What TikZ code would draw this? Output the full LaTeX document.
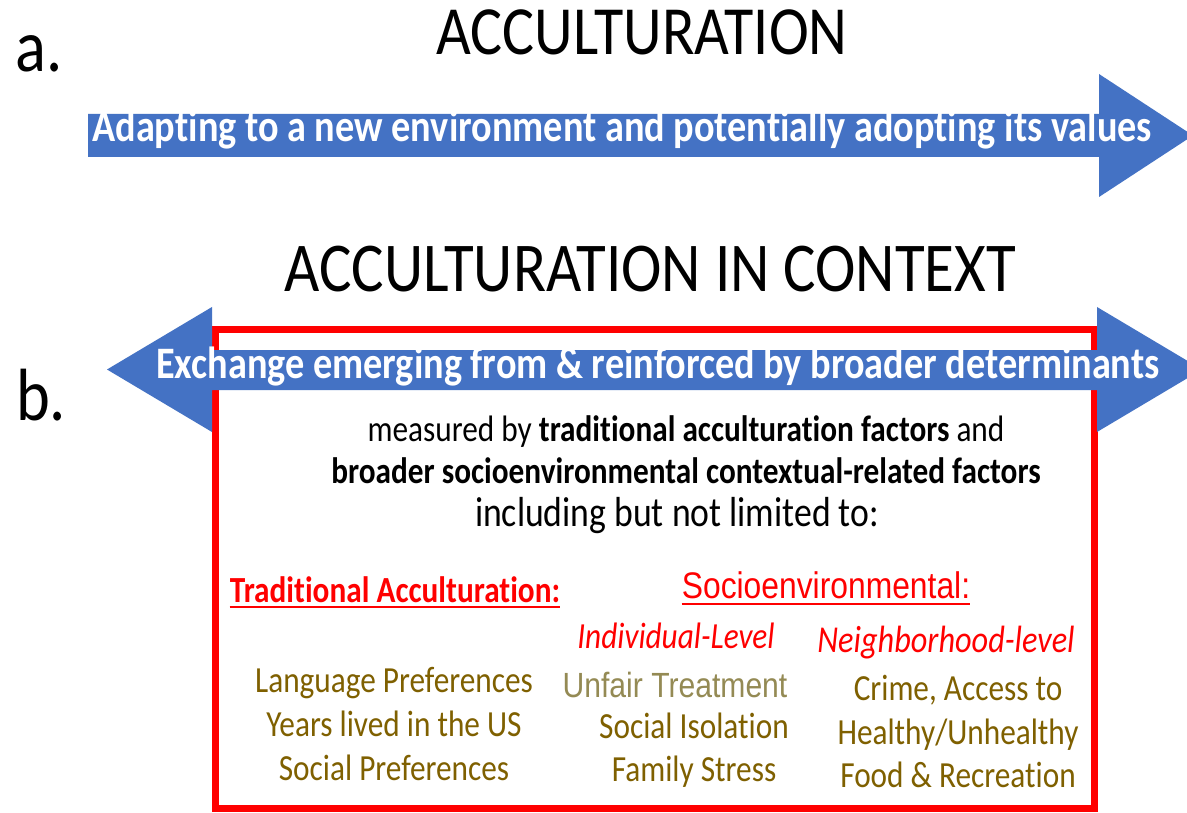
\documentclass[tikz,border=0pt]{standalone}
\usepackage{fontspec}
% narrow (tall) faces, no ligatures
\setmainfont{Carlito}[FakeStretch=0.85, Ligatures=NoCommon]
\newfontfamily\titlefont{Carlito}[FakeStretch=0.87, Ligatures=NoCommon]
\newfontfamily\arialfont{Liberation Sans}[FakeStretch=0.86]
\definecolor{bandblue}{HTML}{4472C4}
\definecolor{boxred}{HTML}{FF0000}
\definecolor{itemolive}{HTML}{7F6000}
\definecolor{itemgrey}{HTML}{948A54}
\tikzset{
  title/.style={anchor=base, inner sep=0pt, font=\titlefont\fontsize{69}{80}\selectfont},
  panel/.style={anchor=base west, inner sep=0pt, font=\titlefont\fontsize{74}{86}\selectfont},
  band/.style={anchor=base, inner sep=0pt, text=white, font=\bfseries\fontsize{45}{52}\selectfont},
  body/.style={anchor=base, inner sep=0pt, font=\fontsize{36.8}{44}\selectfont},
  item/.style={body, text=itemolive},
  head/.style={body, text=boxred},
  subhead/.style={body, text=boxred, font=\itshape\fontsize{36.8}{44}\selectfont},
  arrowshape/.style={fill=bandblue},
  uline/.style={boxred, line width=2pt},
}
\begin{document}
\begin{tikzpicture}[x=1pt, y=-1pt]
\clip (0,0) rectangle (1187,813);
\fill[white] (0,0) rectangle (1187,813);

% panel a
\node[panel] (la) at (15,72) {a.};
\node[title] (ta) at (642,55) {ACCULTURATION};
\fill[arrowshape] (88,114) -- (1099,114) -- (1099,74) -- (1193,135.5)
  -- (1099,197) -- (1099,157) -- (88,157) -- cycle;
\node[band] (ba) at (622,142) {Adapting to a new environment and potentially adopting its values};

% panel b
\node[panel] (lb) at (16,420) {b.};
\node[title, font=\titlefont\fontsize{70}{82}\selectfont] (tb) at (650,292) {ACCULTURATION IN CONTEXT};
\draw[boxred, line width=7pt] (215,330) rectangle (1094,808.5);
\fill[arrowshape] (107,369.5) -- (212,307) -- (212,350) -- (1097,350) -- (1097,307)
  -- (1202,369.5) -- (1097,432) -- (1097,390) -- (212,390) -- (212,432) -- cycle;
\node[band] (bb) at (658,378) {Exchange emerging from \& reinforced by broader determinants};

\node[body] (m1) at (686,441) {measured by \textbf{traditional acculturation factors} and};
\node[body] (m2) at (686,483) {\textbf{broader socioenvironmental contextual-related factors}};
\node[body, font=\fontsize{42}{50}\selectfont] (m3) at (677,526) {including but not limited to:};

% column headings
\node[head, font=\bfseries\fontsize{36.8}{44}\selectfont] (trad) at (395,602) {Traditional Acculturation:};
\draw[uline] ([yshift=-5pt]trad.base west) -- ([yshift=-5pt]trad.base east);
\node[head, font=\arialfont\fontsize{37}{44}\selectfont] (socio) at (826,598) {Socioenvironmental:};
\draw[uline] ([yshift=-6pt]socio.base west) -- ([yshift=-6pt]socio.base east);
\node[subhead] (indiv) at (676,648) {Individual-Level};
\node[subhead, font=\itshape\fontsize{38}{45}\selectfont] (neigh) at (946,652) {Neighborhood-level};

% traditional factors
\node[item] (t1) at (394,692) {Language Preferences};
\node[item] (t2) at (394,736) {Years lived in the US};
\node[item] (t3) at (394,780) {Social Preferences};

% individual-level factors
\node[body, text=itemgrey, font=\arialfont\fontsize{35}{42}\selectfont] (i1) at (675,697) {Unfair Treatment};
\node[item] (i2) at (694,738) {Social Isolation};
\node[item] (i3) at (694,781) {Family Stress};

% neighborhood-level factors
\node[item] (n1) at (958,700) {Crime, Access to};
\node[item] (n2) at (958,744) {Healthy/Unhealthy};
\node[item] (n3) at (958,787) {Food \& Recreation};
\end{tikzpicture}
\end{document}
